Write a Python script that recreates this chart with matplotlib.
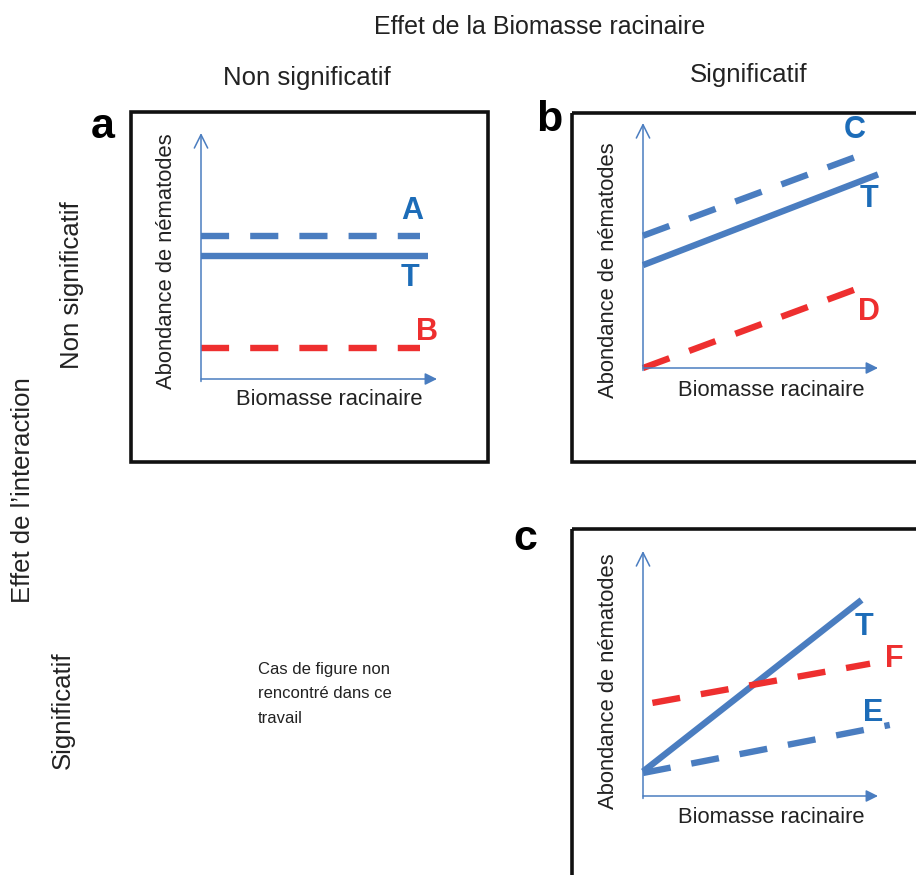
import matplotlib.pyplot as plt
from matplotlib.patches import Rectangle

plt.rcParams['font.family'] = ['Liberation Sans', 'DejaVu Sans']

W, H = 916, 875
BLUE = '#4a7dc0'
BLUE_TXT = '#1c6cb8'
RED = '#ee2f2f'

# line endpoints in each inner axes (0-1 scale, origin at the axes corner)
a_names = ['A', 'T', 'B']
a_x0 = [0.0, 0.0, 0.0]
a_x1 = [0.93, 0.96, 0.93]
a_y0 = [0.58, 0.50, 0.126]
a_y1 = [0.58, 0.50, 0.126]

b_names = ['C', 'T', 'D']
b_x0 = [0.0, 0.0, 0.0]
b_x1 = [0.957, 1.0, 0.957]
b_y0 = [0.54, 0.42, 0.0]
b_y1 = [0.88, 0.79, 0.34]

c_names = ['T', 'F', 'E']
c_x0 = [0.0, 0.04, 0.0]
c_x1 = [0.93, 0.966, 1.05]
c_y0 = [0.10, 0.38, 0.094]
c_y1 = [0.80, 0.54, 0.29]

styles = {'A': (BLUE, '--'), 'B': (RED, '--'), 'C': (BLUE, '--'), 'D': (RED, '--'),
          'E': (BLUE, '--'), 'F': (RED, '--'), 'T': (BLUE, '-')}


def px_axes(fig, x0, y0, x1, y1):
    # pixel box (top-left origin) -> figure axes
    return fig.add_axes([x0 / W, 1 - y1 / H, (x1 - x0) / W, (y1 - y0) / H])


def panel(fig, origin, tip_x, tip_y, names, x0, x1, y0, y1, labels, ylab_y, xlab_y):
    ox, oy = origin
    ax = px_axes(fig, ox, tip_y, tip_x, oy)
    ax.set_xlim(0, 1)
    ax.set_ylim(0, 1)
    ax.axis('off')
    for n, xa, xb, ya, yb in zip(names, x0, x1, y0, y1):
        col, ls = styles[n]
        ln, = ax.plot([xa, xb], [ya, yb], color=col, lw=4.6, solid_capstyle='butt',
                      clip_on=False)
        if ls == '--':
            ln.set_dashes((4.4, 3.3))
            ln.set_dash_capstyle('butt')
    # axis arrows
    ax.annotate('', xy=(0, 1), xytext=(0, -0.01), xycoords='axes fraction',
                arrowprops=dict(arrowstyle='->', color=BLUE, lw=1.1,
                                mutation_scale=24, shrinkA=0, shrinkB=0))
    ax.annotate('', xy=(1, 0), xytext=(0, 0), xycoords='axes fraction',
                arrowprops=dict(arrowstyle='-|>', color=BLUE, lw=1.1,
                                mutation_scale=18, shrinkA=0, shrinkB=0))
    ax.text(-0.148, ylab_y, 'Abondance de nématodes', rotation=90, ha='center',
            va='center', fontsize=15.8, transform=ax.transAxes, color='#222222')
    ax.text(0.545, xlab_y, 'Biomasse racinaire', ha='center', va='center',
            fontsize=15.8, transform=ax.transAxes, color='#222222')
    for n, lx, ly in labels:
        col = RED if styles[n][0] == RED else BLUE_TXT
        ax.text(lx, ly, n, ha='center', va='center', fontsize=22,
                fontweight='bold', color=col, transform=ax.transAxes)
    return ax


fig = plt.figure(figsize=(W / 100, H / 100), dpi=100)
bg = fig.add_axes([0, 0, 1, 1])
bg.set_xlim(0, W)
bg.set_ylim(H, 0)
bg.axis('off')

# panel frames
for (x, y, w, h) in [(131, 112, 357, 350), (572, 113, 360, 349), (572, 529, 360, 360)]:
    bg.add_patch(Rectangle((x, y), w, h, fill=False, lw=2.6, ec='#111111'))

bg.text(103, 127, 'a', fontsize=31, fontweight='bold', ha='center', va='center')
bg.text(549, 120, 'b', fontsize=31, fontweight='bold', ha='center', va='center')
bg.text(525, 539, 'c', fontsize=31, fontweight='bold', ha='center', va='center')

bg.text(540, 27, 'Effet de la Biomasse racinaire', fontsize=18, ha='center', va='center',
        color='#222222')
bg.text(307, 78, 'Non significatif', fontsize=18.5, ha='center', va='center', color='#222222')
bg.text(749, 75, 'Significatif', fontsize=18.5, ha='center', va='center', color='#222222')
bg.text(72, 285, 'Non significatif', fontsize=18.5, rotation=90, ha='center', va='center',
        color='#222222')
bg.text(23, 490, "Effet de l\u2019interaction", fontsize=18.5, rotation=90, ha='center',
        va='center', color='#222222')
bg.text(63, 710, 'Significatif', fontsize=18.5, rotation=90, ha='center', va='center',
        color='#222222')
bg.text(258, 694, 'Cas de figure non\nrencontré dans ce\ntravail', fontsize=12,
        ha='left', va='center', linespacing=1.8, color='#222222')

panel(fig, (201, 379), 437, 133, a_names, a_x0, a_x1, a_y0, a_y1,
      [('A', 0.894, 0.683), ('T', 0.886, 0.41), ('B', 0.956, 0.19)], 0.48, -0.085)
panel(fig, (643, 368), 878, 123, b_names, b_x0, b_x1, b_y0, b_y1,
      [('C', 0.90, 0.97), ('T', 0.96, 0.69), ('D', 0.96, 0.23)], 0.40, -0.09)
panel(fig, (643, 796), 878, 551, c_names, c_x0, c_x1, c_y0, c_y1,
      [('T', 0.94, 0.69), ('F', 1.07, 0.56), ('E', 0.98, 0.34)], 0.47, -0.086)

fig.savefig('out.png', dpi=100)
